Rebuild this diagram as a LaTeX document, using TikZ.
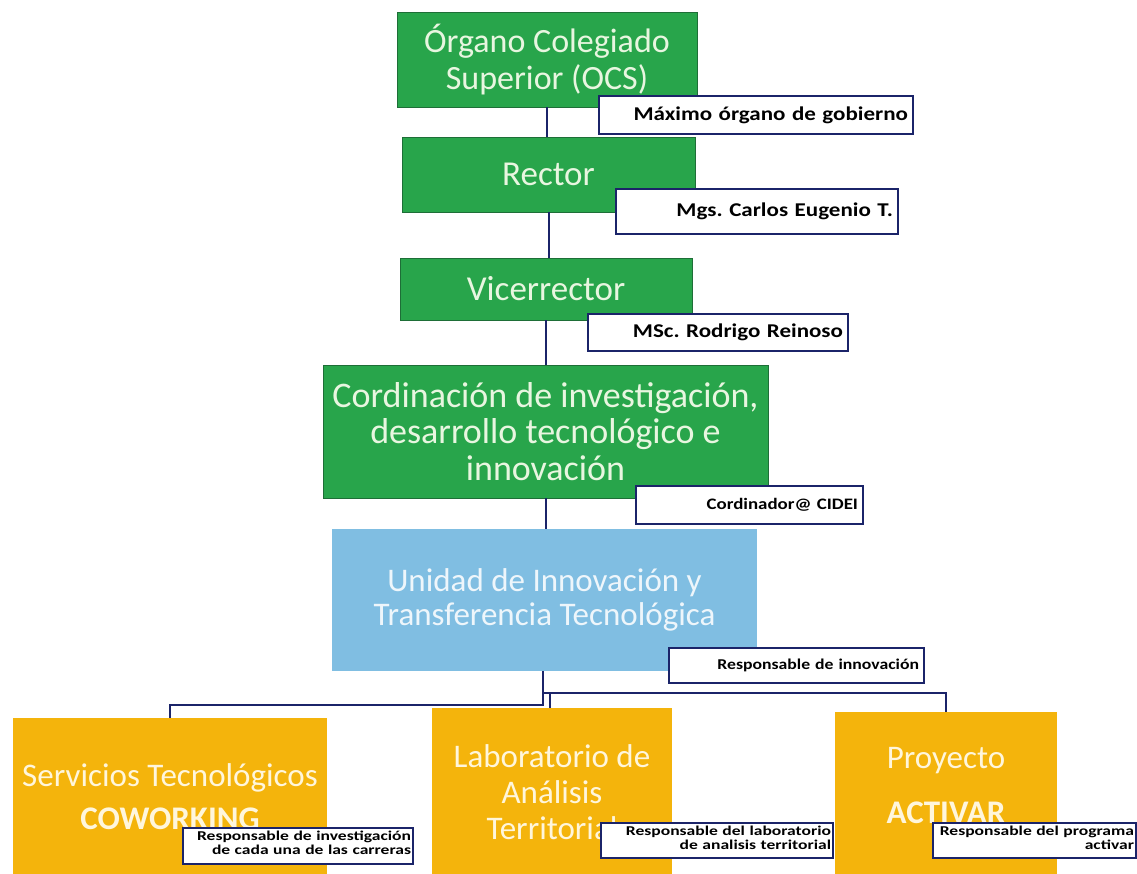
\documentclass[tikz,border=0pt]{standalone}
\usepackage{fontspec}
\setmainfont{Carlito}
\newfontfamily\tagfont[FakeStretch=1.18]{Carlito}
\newfontfamily\smalltagfont[FakeStretch=1.3]{Carlito}
\frenchspacing

\definecolor{orggreen}{RGB}{40,165,75}
\definecolor{orgline}{RGB}{30,110,55}
\definecolor{greentext}{RGB}{232,246,224}
\definecolor{unitblue}{RGB}{128,190,226}
\definecolor{bluetext}{RGB}{238,246,251}
\definecolor{gold}{RGB}{244,180,12}
\definecolor{goldtext}{RGB}{255,246,220}
\definecolor{navy}{RGB}{27,36,105}

\begin{document}
\begin{tikzpicture}[x=1pt, y=-1pt,
  greenbox/.style={draw=orgline, line width=0.8pt, fill=orggreen, text=greentext, align=center, inner sep=0pt},
  bluebox/.style={fill=unitblue, text=bluetext, align=center, inner sep=0pt},
  goldbox/.style={fill=gold, text=goldtext, align=center, inner sep=0pt},
  tagbox/.style={draw=navy, line width=2pt, fill=white, anchor=north west, align=right, inner xsep=5pt, inner ysep=0pt},
  smalltag/.style={tagbox, inner xsep=2pt, inner ysep=3pt, text depth=20pt, font=\smalltagfont\bfseries\fontsize{13.5}{14}\selectfont},
  link/.style={draw=navy, line width=2pt}]

\useasboundingbox (0,0) rectangle (1137,873);
\clip (0,0) rectangle (1137,873);

\node[greenbox, minimum width=300pt, minimum height=95pt, font=\fontsize{34}{37}\selectfont] (ocs) at (547,59.5) {Órgano Colegiado\\Superior (OCS)};
\node[greenbox, minimum width=293pt, minimum height=75pt, font=\fontsize{35}{38}\selectfont] (rector) at (548.5,174.5) {Rector};
\node[greenbox, minimum width=292pt, minimum height=62pt, font=\fontsize{35}{38}\selectfont] (vice) at (546,289) {Vicerrector};
\node[greenbox, minimum width=445pt, minimum height=133pt, font=\fontsize{36}{36.5}\selectfont] (cidei) at (545.5,431.5) {Cordinación de investigación,\\desarrollo tecnológico e\\innovación};
\node[bluebox, minimum width=425pt, minimum height=142pt, font=\fontsize{33}{34}\selectfont] (uitt) at (544.5,600) {Unidad de Innovación y\\Transferencia Tecnológica};

\node[goldbox, minimum width=314pt, minimum height=158pt, font=\fontsize{33}{36}\selectfont] (serv) at (170,797) {Servicios Tecnológicos\\[7pt]\textbf{COWORKING}};
\node[goldbox, minimum width=240pt, minimum height=168pt, font=\fontsize{33}{36}\selectfont] (lab) at (552,792) {Laboratorio de\\Análisis\\Territorial};
\node[goldbox, minimum width=222pt, minimum height=168pt, text depth=22pt, font=\fontsize{33}{36}\selectfont] (proy) at (946,796) {Proyecto\\[19pt]\textbf{ACTIVAR}};

\draw[link] (ocs.south) -- (ocs.south |- rector.north);
\draw[link] (rector.south) -- (rector.south |- vice.north);
\draw[link] (vice.south) -- (vice.south |- cidei.north);
\draw[link] (cidei.south) -- (cidei.south |- uitt.north);

\coordinate (split) at (543,705);
\coordinate (fork) at (543,693);
\coordinate (stub) at (550,693);
\draw[link] (uitt.south -| split) -- (split) -| (serv.north);
\draw[link] (fork) -| (proy.north);
\draw[link] (stub) -- (stub |- lab.north);

\node[tagbox, text width=304pt, minimum height=38pt, font=\tagfont\bfseries\fontsize{19.5}{22}\selectfont] (ocs-tag) at (598,95) {Máximo órgano de gobierno};
\node[tagbox, text width=272pt, minimum height=45pt, font=\tagfont\bfseries\fontsize{19.5}{22}\selectfont] (rector-tag) at (615,188) {Mgs. Carlos Eugenio T.};
\node[tagbox, text width=250pt, minimum height=37pt, font=\tagfont\bfseries\fontsize{19.5}{22}\selectfont] (vice-tag) at (587,313) {MSc. Rodrigo Reinoso};
\node[tagbox, text width=217pt, minimum height=38pt, font=\tagfont\bfseries\fontsize{16}{18}\selectfont] (cidei-tag) at (635,485) {Cordinador@ CIDEI};
\node[tagbox, text width=245pt, minimum height=35pt, font=\tagfont\bfseries\fontsize{15}{17}\selectfont] (uitt-tag) at (668,647) {Responsable de innovación};

\node[smalltag, text width=226pt] (serv-tag) at (182,827) {Responsable de investigación\\de cada una de las carreras};
\node[smalltag, text width=228pt] (lab-tag) at (600,822) {Responsable del laboratorio\\de analisis territorial};
\node[smalltag, text width=199pt] (proy-tag) at (932,822) {Responsable del programa\\activar};
\end{tikzpicture}
\end{document}
